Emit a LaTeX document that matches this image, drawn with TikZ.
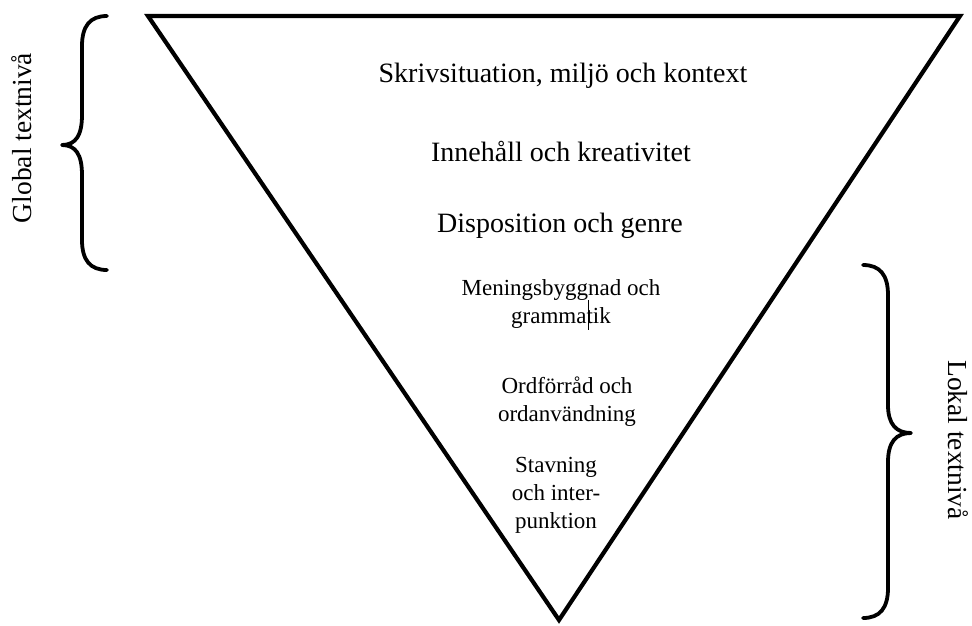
\documentclass[tikz,border=0pt]{standalone}
\usepackage{fontspec}
\setmainfont{Liberation Serif}
\begin{document}
\begin{tikzpicture}[x=1pt,y=-1pt,
  bigtxt/.style={font=\fontsize{28}{34}\selectfont, inner sep=0pt, anchor=center},
  smalltxt/.style={font=\fontsize{23}{28}\selectfont, inner sep=0pt, align=center, anchor=center},
  sidetxt/.style={font=\fontsize{27.5}{32}\selectfont, inner sep=0pt, anchor=center},
  bracestroke/.style={line width=3.8pt, line cap=round, line join=round},
  triline/.style={line width=4.2pt, line join=miter}]
\useasboundingbox (0,0) rectangle (972,625);
% triangle
\coordinate (tl) at (148,16);
\coordinate (tr) at (960,16);
\coordinate (ap) at (559,620);
\draw[triline] (tl) -- (tr) -- (ap) -- cycle;
% texts
\node[bigtxt] (t1) at (563,76) {Skrivsituation, miljö och kontext};
\node[bigtxt] (t2) at (561,151) {Innehåll och kreativitet};
\node[bigtxt] (t3) at (560,226) {Disposition och genre};
\node[smalltxt] (t4) at (561,304) {Meningsbyggnad och\\grammatik};
\node[smalltxt] (t5) at (567,402) {Ordförråd och\\ordanvändning};
\node[smalltxt] (t6) at (556,495) {Stavning\\och inter-\\punktion};
% cursor mark
\draw[line width=0.8pt] (588,300) -- (588,330);
% left brace
\draw[bracestroke] (107,16) .. controls (90,16) and (82,26) .. (82,46)
  -- (82,115) .. controls (82,135) and (76,145) .. (62,145)
  .. controls (76,145) and (82,155) .. (82,175)
  -- (82,240) .. controls (82,260) and (90,270) .. (107,270);
\node[sidetxt, rotate=90] (gl) at (22,138) {Global textnivå};
% right brace
\draw[bracestroke] (863,265) .. controls (880,265) and (888,275) .. (888,295)
  -- (888,405) .. controls (888,424) and (896,433) .. (911,433)
  .. controls (896,433) and (888,442) .. (888,462)
  -- (888,588) .. controls (888,608) and (880,618) .. (863,618);
\node[sidetxt, rotate=-90] (lo) at (958,440) {Lokal textnivå};
\end{tikzpicture}
\end{document}
